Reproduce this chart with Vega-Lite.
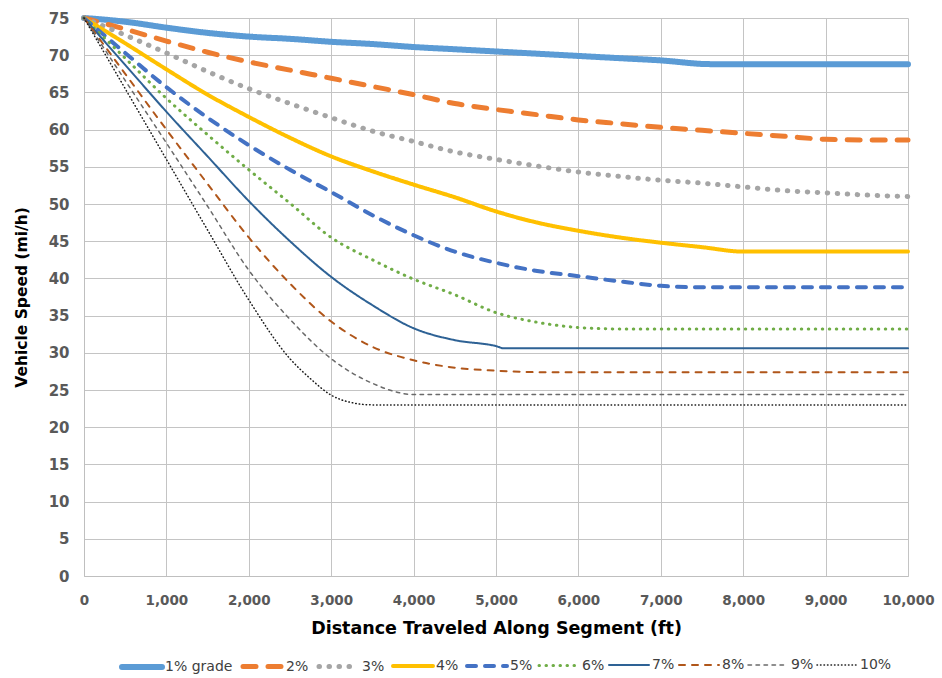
{
  "$schema": "https://vega.github.io/schema/vega-lite/v6.json",
  "autosize": {"type": "none"},
  "width": 824,
  "height": 558,
  "padding": {"left": 84, "top": 18, "right": 34, "bottom": 102},
  "background": "white",
  "config": {
    "view": {"stroke": null},
    "font": "DejaVu Sans",
    "axis": {"gridColor": "#C4C4C4", "gridWidth": 1, "domainColor": "#BFBFBF", "ticks": false, "labelFont": "DejaVu Sans", "labelFontWeight": "bold", "labelColor": "#595959", "titleFont": "DejaVu Sans", "titleFontWeight": "bold", "titleColor": "#000000"},
    "legend": {"orient": "none", "legendX": 35, "legendY": 626, "direction": "horizontal", "columns": 10, "symbolType": "stroke", "symbolSize": 1600, "labelFontSize": 14, "labelFont": "DejaVu Sans", "labelColor": "#404040", "labelOffset": 0, "columnPadding": 0, "gridAlign": "none", "title": null}
  },
  "data": {"values": [
    {"d":0,"v":75,"g":"1% grade"},{"d":500,"v":74.5,"g":"1% grade"},{"d":1000,"v":73.7,"g":"1% grade"},{"d":1500,"v":73.0,"g":"1% grade"},{"d":2000,"v":72.5,"g":"1% grade"},{"d":2500,"v":72.2,"g":"1% grade"},{"d":3000,"v":71.8,"g":"1% grade"},{"d":3500,"v":71.5,"g":"1% grade"},{"d":4000,"v":71.1,"g":"1% grade"},{"d":4500,"v":70.8,"g":"1% grade"},{"d":5000,"v":70.5,"g":"1% grade"},{"d":5500,"v":70.2,"g":"1% grade"},{"d":6000,"v":69.9,"g":"1% grade"},{"d":6500,"v":69.6,"g":"1% grade"},{"d":7000,"v":69.3,"g":"1% grade"},{"d":7600,"v":68.8,"g":"1% grade"},{"d":8000,"v":68.8,"g":"1% grade"},{"d":10000,"v":68.8,"g":"1% grade"},
    {"d":0,"v":75,"g":"2%"},{"d":500,"v":73.5,"g":"2%"},{"d":1000,"v":71.9,"g":"2%"},{"d":1500,"v":70.4,"g":"2%"},{"d":2000,"v":69.1,"g":"2%"},{"d":2500,"v":68.0,"g":"2%"},{"d":3000,"v":66.9,"g":"2%"},{"d":3500,"v":65.8,"g":"2%"},{"d":4000,"v":64.7,"g":"2%"},{"d":4500,"v":63.5,"g":"2%"},{"d":5000,"v":62.7,"g":"2%"},{"d":5500,"v":62.0,"g":"2%"},{"d":6000,"v":61.3,"g":"2%"},{"d":6500,"v":60.8,"g":"2%"},{"d":7000,"v":60.3,"g":"2%"},{"d":7500,"v":59.9,"g":"2%"},{"d":8000,"v":59.5,"g":"2%"},{"d":8500,"v":59.1,"g":"2%"},{"d":9000,"v":58.7,"g":"2%"},{"d":9500,"v":58.6,"g":"2%"},{"d":10000,"v":58.6,"g":"2%"},
    {"d":0,"v":75,"g":"3%"},{"d":500,"v":72.7,"g":"3%"},{"d":1000,"v":70.3,"g":"3%"},{"d":1500,"v":67.8,"g":"3%"},{"d":2000,"v":65.5,"g":"3%"},{"d":2500,"v":63.5,"g":"3%"},{"d":3000,"v":61.6,"g":"3%"},{"d":3500,"v":59.8,"g":"3%"},{"d":4000,"v":58.4,"g":"3%"},{"d":4500,"v":57.0,"g":"3%"},{"d":5000,"v":56.0,"g":"3%"},{"d":5500,"v":55.1,"g":"3%"},{"d":6000,"v":54.3,"g":"3%"},{"d":6500,"v":53.7,"g":"3%"},{"d":7000,"v":53.2,"g":"3%"},{"d":7500,"v":52.8,"g":"3%"},{"d":8000,"v":52.3,"g":"3%"},{"d":8500,"v":51.8,"g":"3%"},{"d":9000,"v":51.5,"g":"3%"},{"d":9500,"v":51.2,"g":"3%"},{"d":10000,"v":51.0,"g":"3%"},
    {"d":0,"v":75,"g":"4%"},{"d":500,"v":71.6,"g":"4%"},{"d":1000,"v":68.1,"g":"4%"},{"d":1500,"v":64.7,"g":"4%"},{"d":2000,"v":61.7,"g":"4%"},{"d":2500,"v":58.9,"g":"4%"},{"d":3000,"v":56.4,"g":"4%"},{"d":3500,"v":54.4,"g":"4%"},{"d":4000,"v":52.6,"g":"4%"},{"d":4500,"v":50.9,"g":"4%"},{"d":5000,"v":49.0,"g":"4%"},{"d":5500,"v":47.5,"g":"4%"},{"d":6000,"v":46.4,"g":"4%"},{"d":6500,"v":45.5,"g":"4%"},{"d":7000,"v":44.8,"g":"4%"},{"d":7500,"v":44.2,"g":"4%"},{"d":8000,"v":43.6,"g":"4%"},{"d":10000,"v":43.6,"g":"4%"},
    {"d":0,"v":75,"g":"5%"},{"d":500,"v":70.3,"g":"5%"},{"d":1000,"v":65.7,"g":"5%"},{"d":1500,"v":61.6,"g":"5%"},{"d":2000,"v":57.9,"g":"5%"},{"d":2500,"v":54.6,"g":"5%"},{"d":3000,"v":51.6,"g":"5%"},{"d":3500,"v":48.5,"g":"5%"},{"d":4000,"v":45.8,"g":"5%"},{"d":4500,"v":43.6,"g":"5%"},{"d":5000,"v":42.1,"g":"5%"},{"d":5500,"v":41.0,"g":"5%"},{"d":6000,"v":40.3,"g":"5%"},{"d":6500,"v":39.6,"g":"5%"},{"d":7000,"v":39.0,"g":"5%"},{"d":7500,"v":38.8,"g":"5%"},{"d":10000,"v":38.8,"g":"5%"},
    {"d":0,"v":75,"g":"6%"},{"d":500,"v":69.6,"g":"6%"},{"d":1000,"v":64.2,"g":"6%"},{"d":1500,"v":59.3,"g":"6%"},{"d":2000,"v":54.6,"g":"6%"},{"d":2500,"v":50.1,"g":"6%"},{"d":3000,"v":45.5,"g":"6%"},{"d":3500,"v":42.5,"g":"6%"},{"d":4000,"v":39.9,"g":"6%"},{"d":4500,"v":37.8,"g":"6%"},{"d":5000,"v":35.4,"g":"6%"},{"d":5500,"v":34.1,"g":"6%"},{"d":6000,"v":33.4,"g":"6%"},{"d":6500,"v":33.2,"g":"6%"},{"d":10000,"v":33.2,"g":"6%"},
    {"d":0,"v":75,"g":"7%"},{"d":500,"v":68.7,"g":"7%"},{"d":1000,"v":62.4,"g":"7%"},{"d":1500,"v":56.4,"g":"7%"},{"d":2000,"v":50.4,"g":"7%"},{"d":2500,"v":45.0,"g":"7%"},{"d":3000,"v":40.2,"g":"7%"},{"d":3500,"v":36.4,"g":"7%"},{"d":4000,"v":33.3,"g":"7%"},{"d":4500,"v":31.7,"g":"7%"},{"d":5000,"v":30.9,"g":"7%"},{"d":5100,"v":30.6,"g":"7%"},{"d":10000,"v":30.6,"g":"7%"},
    {"d":0,"v":75,"g":"8%"},{"d":500,"v":67.5,"g":"8%"},{"d":1000,"v":60.0,"g":"8%"},{"d":1500,"v":52.7,"g":"8%"},{"d":2000,"v":45.5,"g":"8%"},{"d":2500,"v":39.3,"g":"8%"},{"d":3000,"v":34.2,"g":"8%"},{"d":3500,"v":30.8,"g":"8%"},{"d":4000,"v":29.0,"g":"8%"},{"d":4500,"v":28.0,"g":"8%"},{"d":5000,"v":27.6,"g":"8%"},{"d":5500,"v":27.4,"g":"8%"},{"d":10000,"v":27.4,"g":"8%"},
    {"d":0,"v":75,"g":"9%"},{"d":500,"v":66.6,"g":"9%"},{"d":1000,"v":58.2,"g":"9%"},{"d":1500,"v":49.7,"g":"9%"},{"d":2000,"v":41.1,"g":"9%"},{"d":2500,"v":34.5,"g":"9%"},{"d":3000,"v":29.2,"g":"9%"},{"d":3500,"v":25.9,"g":"9%"},{"d":4000,"v":24.4,"g":"9%"},{"d":10000,"v":24.4,"g":"9%"},
    {"d":0,"v":75,"g":"10%"},{"d":500,"v":65.5,"g":"10%"},{"d":1000,"v":56.0,"g":"10%"},{"d":1500,"v":46.5,"g":"10%"},{"d":2000,"v":37.1,"g":"10%"},{"d":2500,"v":29.2,"g":"10%"},{"d":2750,"v":26.5,"g":"10%"},{"d":3000,"v":24.3,"g":"10%"},{"d":3250,"v":23.3,"g":"10%"},{"d":3500,"v":23.0,"g":"10%"},{"d":10000,"v":23.0,"g":"10%"}
  ]},
  "mark": {"type": "line", "strokeCap": "round", "strokeJoin": "round", "interpolate": "monotone"},
  "encoding": {
    "x": {"field": "d", "type": "quantitative", "scale": {"domain": [0, 10000], "nice": false}, "axis": {"title": "Distance Traveled Along Segment (ft)", "values": [0,1000,2000,3000,4000,5000,6000,7000,8000,9000,10000], "format": ",.0f", "labelFontSize": 13.5, "labelPadding": 17, "titleFontSize": 17.5, "titlePadding": 13, "labelOverlap": false, "labelFlush": false}},
    "y": {"field": "v", "type": "quantitative", "scale": {"domain": [0, 75], "nice": false}, "axis": {"title": "Vehicle Speed (mi/h)", "values": [0,5,10,15,20,25,30,35,40,45,50,55,60,65,70,75], "labelFontSize": 15, "labelPadding": 15, "titleFontSize": 15.5, "titlePadding": 19, "labelOverlap": false}},
    "color": {"field": "g", "type": "nominal", "scale": {"domain": ["1% grade","2%","3%","4%","5%","6%","7%","8%","9%","10%"], "range": ["#5B9BD5","#ED7D31","#A5A5A5","#FFC000","#4472C4","#70AD47","#2E6295","#B0561A","#6A6A6A","#1A1A1A"]}, "legend": {"encoding": {"symbols": {"strokeCap": {"value": "round"}}}}},
    "strokeDash": {"field": "g", "type": "nominal", "scale": {"domain": ["1% grade","2%","3%","4%","5%","6%","7%","8%","9%","10%"], "range": [[1,0],[13,12],[0.5,9.5],[1,0],[9,9],[0.5,6.5],[1,0],[6,7],[3.5,4.5],[0.5,3]]}, "legend": {"encoding": {"symbols": {"strokeCap": {"value": "round"}}}}},
    "strokeWidth": {"field": "g", "type": "nominal", "scale": {"type": "ordinal", "domain": ["1% grade","2%","3%","4%","5%","6%","7%","8%","9%","10%"], "range": [6,5,5,4,4,3,2,2,1.5,1.5]}, "legend": {"encoding": {"symbols": {"strokeCap": {"value": "round"}}}}}
  }
}
